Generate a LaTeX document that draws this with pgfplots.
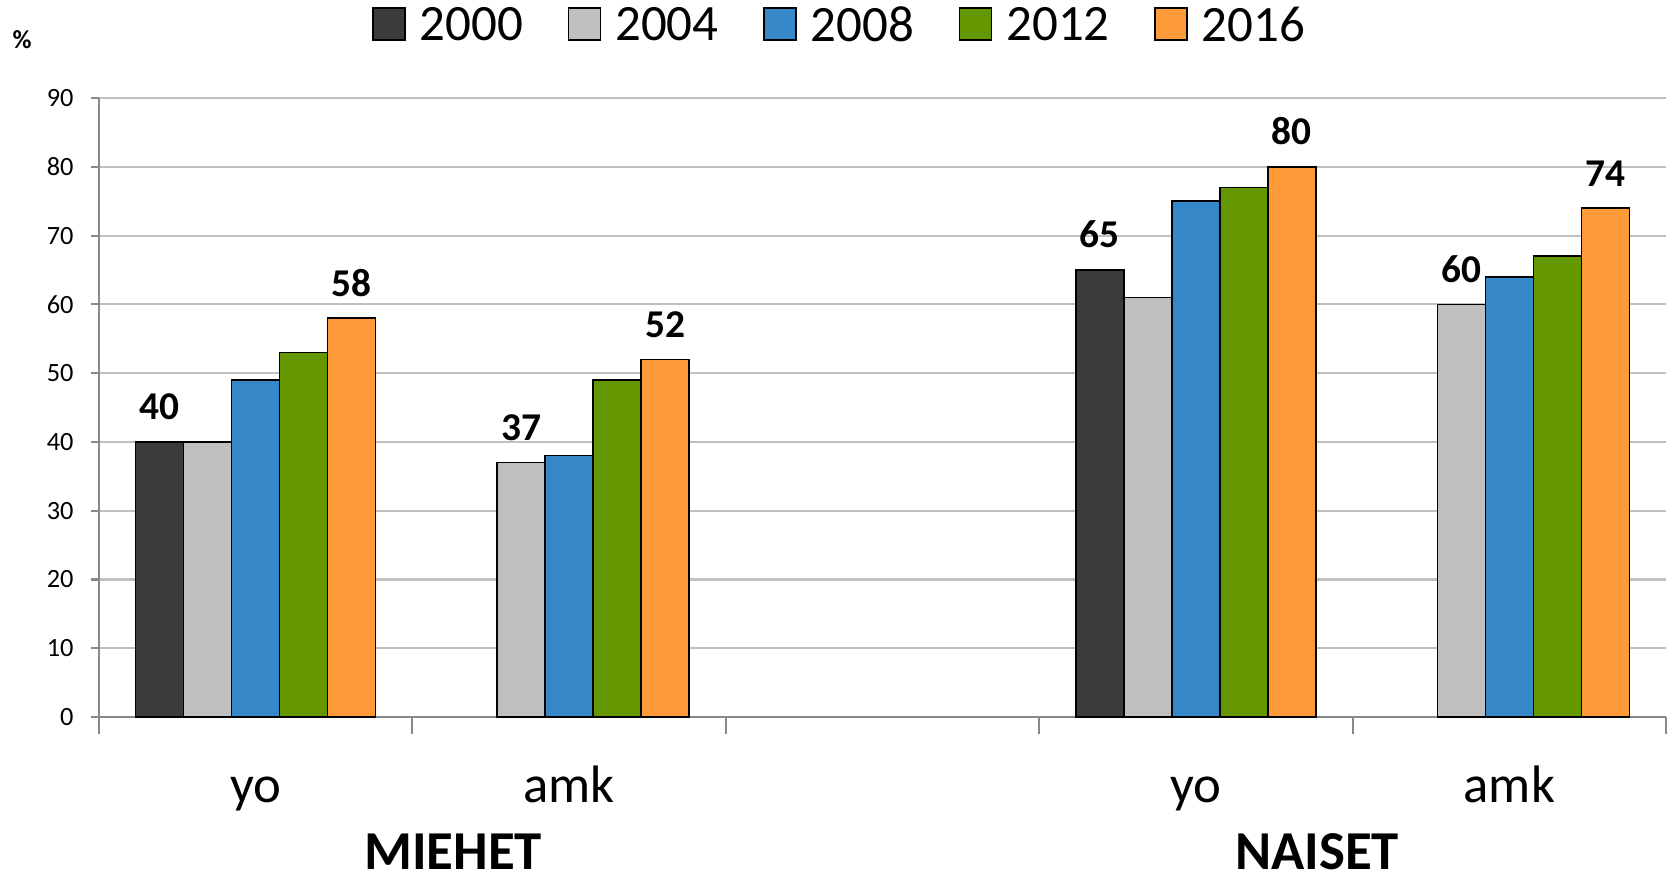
\documentclass[border=0pt]{standalone}
\usepackage{pgfplots}
\pgfplotsset{compat=1.18}
\usepackage{fontspec}
\setmainfont{Carlito}
\definecolor{cA}{HTML}{3B3B3B}
\definecolor{cB}{HTML}{BFBFBF}
\definecolor{cC}{HTML}{3587C8}
\definecolor{cD}{HTML}{659800}
\definecolor{cE}{HTML}{FE9A38}
\definecolor{gridc}{HTML}{C0C0C0}
\definecolor{axc}{HTML}{888888}
\begin{document}
\begin{tikzpicture}
\useasboundingbox (0,0) rectangle (16.71,8.79);
\begin{axis}[
  at={(0.99cm,1.62cm)}, anchor=south west,
  scale only axis, width=15.67cm, height=6.19cm,
  ybar=0pt, bar width=0.48cm,
  xmin=-0.5, xmax=4.5, ymin=0, ymax=90,
  axis lines*=left,
  axis line style={draw=axc, line width=0.6pt},
  xtick={0,1,2,3,4},
  xticklabels={yo,amk,,yo,amk},
  major x tick style={draw=none},
  minor xtick={-0.5,0.5,1.5,2.5,3.5,4.5},
  minor x tick style={draw=axc, line width=0.6pt},
  minor tick length=0.17cm,
  ytick={0,10,...,90},
  major tick length=0.08cm,
  major y tick style={draw=axc, line width=0.6pt},
  tick align=outside,
  ymajorgrids, grid style={draw=gridc, line width=0.6pt},
  xticklabel style={font=\fontsize{15}{18}\selectfont, anchor=base, yshift=-0.77cm},
  yticklabel style={font=\fontsize{7.5}{9}\selectfont, xshift=-0.05cm},
  /pgf/number format/assume math mode=true,
  every axis plot/.append style={draw=black, line width=0.45pt,
    legend image code/.code={\draw[##1, line width=0.5pt] (0cm,-0.13cm) rectangle (0.32cm,0.19cm);}},
  point meta=explicit symbolic,
  nodes near coords,
  nodes near coords style={font=\bfseries\fontsize{11.2}{13}\selectfont, anchor=base, yshift=0.22cm, text=black},
  legend columns=5,
  legend style={draw=none, fill=none, at={(0.472,1.1147)}, anchor=center,
    font=\fontsize{14.5}{17}\selectfont, inner sep=0pt,
    nodes={inner sep=0pt},
    column sep=0pt,
    /tikz/every odd column/.append style={column sep=0.14cm},
    /tikz/every even column/.append style={column sep=0.445cm}},
]
\addplot[fill=cA] coordinates {(0,40) [40] (3,65) [65]};
\addplot[fill=cB] coordinates {(0,40) [{}] (1,37) [37] (3,61) [{}] (4,60) [60]};
\addplot[fill=cC] coordinates {(0,49) [{}] (1,38) [{}] (3,75) [{}] (4,64) [{}]};
\addplot[fill=cD] coordinates {(0,53) [{}] (1,49) [{}] (3,77) [{}] (4,67) [{}]};
\addplot[fill=cE] coordinates {(0,58) [58] (1,52) [52] (3,80) [80] (4,74) [74]};
\legend{2000,2004,2008,2012,2016}
\end{axis}
\node[font=\bfseries\fontsize{7.4}{9}\selectfont] at (0.22,8.39) {\%};
\node[font=\bfseries\fontsize{15.6}{18}\selectfont] at (4.53,0.27) {MIEHET};
\node[font=\bfseries\fontsize{15.6}{18}\selectfont] at (13.17,0.27) {NAISET};
\end{tikzpicture}
\end{document}
